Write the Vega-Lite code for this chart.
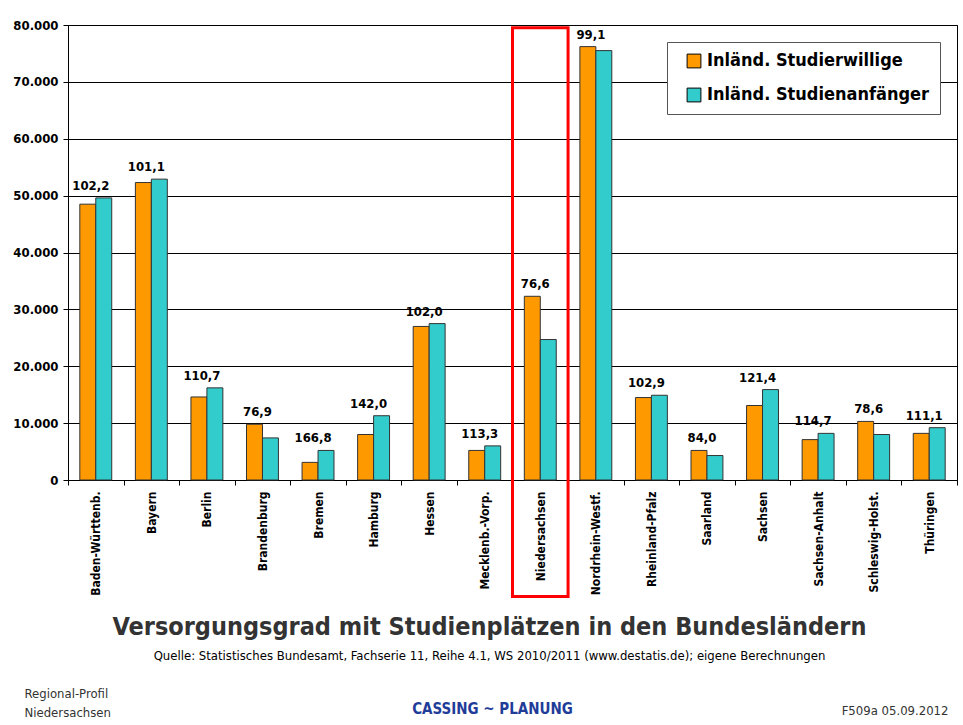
{
  "$schema": "https://vega.github.io/schema/vega-lite/v6.json",
  "width": 889,
  "height": 455,
  "autosize": {"type": "none"},
  "padding": {"left": 68, "top": 25, "right": 6, "bottom": 245},
  "background": "white",
  "config": {
    "font": "DejaVu Sans Condensed, Liberation Sans, sans-serif",
    "view": {"stroke": "#000", "strokeWidth": 1},
    "axis": {"labelFont": "DejaVu Sans Condensed, Liberation Sans, sans-serif", "titleFont": "DejaVu Sans Condensed, Liberation Sans, sans-serif"},
    "legend": {"labelFont": "DejaVu Sans Condensed, Liberation Sans, sans-serif"}
  },
  "title": {
    "text": "Versorgungsgrad mit Studienplätzen in den Bundesländern",
    "subtitle": "Quelle: Statistisches Bundesamt, Fachserie 11, Reihe 4.1, WS 2010/2011 (www.destatis.de); eigene Berechnungen",
    "orient": "bottom",
    "anchor": "middle",
    "font": "DejaVu Sans Condensed, Liberation Sans, sans-serif",
    "fontSize": 25,
    "fontWeight": "bold",
    "color": "#333333",
    "subtitleFont": "DejaVu Sans Condensed, Liberation Sans, sans-serif",
    "subtitleFontSize": 13,
    "subtitleColor": "#000000",
    "subtitlePadding": 10,
    "offset": 8,
    "dx": -23,
    "dy": -112
  },
  "data": {
    "values": [
      {"state": "Baden-Württenb.", "series": "Inländ. Studierwillige", "value": 48500, "ratio": "102,2"},
      {"state": "Baden-Württenb.", "series": "Inländ. Studienanfänger", "value": 49600, "ratio": "102,2"},
      {"state": "Bayern", "series": "Inländ. Studierwillige", "value": 52300, "ratio": "101,1"},
      {"state": "Bayern", "series": "Inländ. Studienanfänger", "value": 52900, "ratio": "101,1"},
      {"state": "Berlin", "series": "Inländ. Studierwillige", "value": 14600, "ratio": "110,7"},
      {"state": "Berlin", "series": "Inländ. Studienanfänger", "value": 16200, "ratio": "110,7"},
      {"state": "Brandenburg", "series": "Inländ. Studierwillige", "value": 9800, "ratio": "76,9"},
      {"state": "Brandenburg", "series": "Inländ. Studienanfänger", "value": 7400, "ratio": "76,9"},
      {"state": "Bremen", "series": "Inländ. Studierwillige", "value": 3100, "ratio": "166,8"},
      {"state": "Bremen", "series": "Inländ. Studienanfänger", "value": 5200, "ratio": "166,8"},
      {"state": "Hamburg", "series": "Inländ. Studierwillige", "value": 8000, "ratio": "142,0"},
      {"state": "Hamburg", "series": "Inländ. Studienanfänger", "value": 11300, "ratio": "142,0"},
      {"state": "Hessen", "series": "Inländ. Studierwillige", "value": 27000, "ratio": "102,0"},
      {"state": "Hessen", "series": "Inländ. Studienanfänger", "value": 27500, "ratio": "102,0"},
      {"state": "Mecklenb.-Vorp.", "series": "Inländ. Studierwillige", "value": 5200, "ratio": "113,3"},
      {"state": "Mecklenb.-Vorp.", "series": "Inländ. Studienanfänger", "value": 6000, "ratio": "113,3"},
      {"state": "Niedersachsen", "series": "Inländ. Studierwillige", "value": 32300, "ratio": "76,6"},
      {"state": "Niedersachsen", "series": "Inländ. Studienanfänger", "value": 24700, "ratio": "76,6"},
      {"state": "Nordrhein-Westf.", "series": "Inländ. Studierwillige", "value": 76200, "ratio": "99,1"},
      {"state": "Nordrhein-Westf.", "series": "Inländ. Studienanfänger", "value": 75500, "ratio": "99,1"},
      {"state": "Rheinland-Pfalz", "series": "Inländ. Studierwillige", "value": 14500, "ratio": "102,9"},
      {"state": "Rheinland-Pfalz", "series": "Inländ. Studienanfänger", "value": 14900, "ratio": "102,9"},
      {"state": "Saarland", "series": "Inländ. Studierwillige", "value": 5200, "ratio": "84,0"},
      {"state": "Saarland", "series": "Inländ. Studienanfänger", "value": 4300, "ratio": "84,0"},
      {"state": "Sachsen", "series": "Inländ. Studierwillige", "value": 13100, "ratio": "121,4"},
      {"state": "Sachsen", "series": "Inländ. Studienanfänger", "value": 15900, "ratio": "121,4"},
      {"state": "Sachsen-Anhalt", "series": "Inländ. Studierwillige", "value": 7100, "ratio": "114,7"},
      {"state": "Sachsen-Anhalt", "series": "Inländ. Studienanfänger", "value": 8200, "ratio": "114,7"},
      {"state": "Schleswig-Holst.", "series": "Inländ. Studierwillige", "value": 10300, "ratio": "78,6"},
      {"state": "Schleswig-Holst.", "series": "Inländ. Studienanfänger", "value": 8000, "ratio": "78,6"},
      {"state": "Thüringen", "series": "Inländ. Studierwillige", "value": 8200, "ratio": "111,1"},
      {"state": "Thüringen", "series": "Inländ. Studienanfänger", "value": 9200, "ratio": "111,1"}
    ]
  },
  "encoding": {
    "x": {
      "field": "state",
      "type": "nominal",
      "sort": null,
      "scale": {"paddingInner": 0, "paddingOuter": 0},
      "axis": {
        "labelAngle": -90,
        "labelAlign": "right",
        "labelBaseline": "middle",
        "labelFontWeight": "bold",
        "labelFontSize": 12,
        "labelColor": "#000",
        "labelPadding": 6,
        "tickBand": "extent",
        "tickSize": 5,
        "tickColor": "#000",
        "domainColor": "#000",
        "title": "CASSING ~ PLANUNG",
        "titleColor": "#1f3c99",
        "titleFontWeight": "bold",
        "titleFontSize": 15,
        "titleAlign": "center",
        "titleBaseline": "alphabetic",
        "titleAngle": 0,
        "titleX": 424,
        "titleY": 233
      }
    }
  },
  "layer": [
    {
      "encoding": {
        "y": {
          "field": "value",
          "type": "quantitative",
          "scale": {"domain": [0, 80000], "nice": false},
          "axis": {
            "values": [0, 10000, 20000, 30000, 40000, 50000, 60000, 70000, 80000],
            "format": ",d",
            "labelExpr": "replace(datum.label, ',', '.')",
            "grid": true,
            "gridColor": "#000",
            "gridWidth": 1,
            "labelFontWeight": "bold",
            "labelFontSize": 13,
            "labelColor": "#000",
            "labelPadding": 5,
            "tickSize": 5,
            "tickColor": "#000",
            "domainColor": "#000",
            "title": ["Regional-Profil", "Niedersachsen"],
            "titleAngle": 0,
            "titleAlign": "left",
            "titleBaseline": "alphabetic",
            "titleX": -44,
            "titleY": 672,
            "titleFontWeight": "normal",
            "titleFontSize": 13,
            "titleColor": "#333",
            "titleLineHeight": 19
          }
        }
      },
      "layer": [
        {
          "mark": {"type": "bar", "stroke": "#333", "strokeWidth": 1},
          "encoding": {
            "xOffset": {
              "field": "series",
              "type": "nominal",
              "scale": {"domain": ["Inländ. Studierwillige", "Inländ. Studienanfänger"], "paddingOuter": 0.74, "paddingInner": 0}
            },
            "color": {
              "field": "series",
              "type": "nominal",
              "scale": {"domain": ["Inländ. Studierwillige", "Inländ. Studienanfänger"], "range": ["#FF9900", "#33CCCC"]},
              "legend": {
                "title": null,
                "orient": "top-right",
                "offset": 17,
                "fillColor": "white",
                "strokeColor": "#555",
                "padding": 10,
                "symbolOffset": 8,
                "symbolType": "square",
                "symbolSize": 190,
                "symbolStrokeColor": "#000",
                "symbolStrokeWidth": 1,
                "labelFontSize": 18,
                "labelFontWeight": "bold",
                "labelColor": "#000",
                "labelLimit": 400,
                "rowPadding": 16
              }
            }
          }
        },
        {
          "mark": {"type": "text", "baseline": "bottom", "dy": -5, "dx": -5, "fontWeight": "bold", "fontSize": 13, "color": "#000"},
          "encoding": {
            "y": {"aggregate": "max", "field": "value", "type": "quantitative"},
            "text": {"field": "ratio", "type": "nominal"}
          }
        }
      ]
    },
    {
      "transform": [{"filter": "datum.state == 'Niedersachsen' && datum.series == 'Inländ. Studierwillige'"}],
      "mark": {"type": "rect", "fill": null, "fillOpacity": 0, "stroke": "#FF0000", "strokeWidth": 3},
      "encoding": {
        "y": {
          "datum": 79500,
          "type": "quantitative",
          "scale": {"domain": [0, 80000], "nice": false, "clamp": false},
          "axis": {
            "orient": "right",
            "labels": false,
            "ticks": false,
            "domain": false,
            "grid": false,
            "title": "F509a   05.09.2012",
            "titleAngle": 0,
            "titleAlign": "right",
            "titleBaseline": "alphabetic",
            "titleX": -9,
            "titleY": 689,
            "titleFontWeight": "normal",
            "titleFontSize": 13,
            "titleColor": "#333"
          }
        },
        "y2": {"datum": -20500}
      }
    }
  ],
  "resolve": {"scale": {"y": "independent"}, "axis": {"y": "independent"}}
}
